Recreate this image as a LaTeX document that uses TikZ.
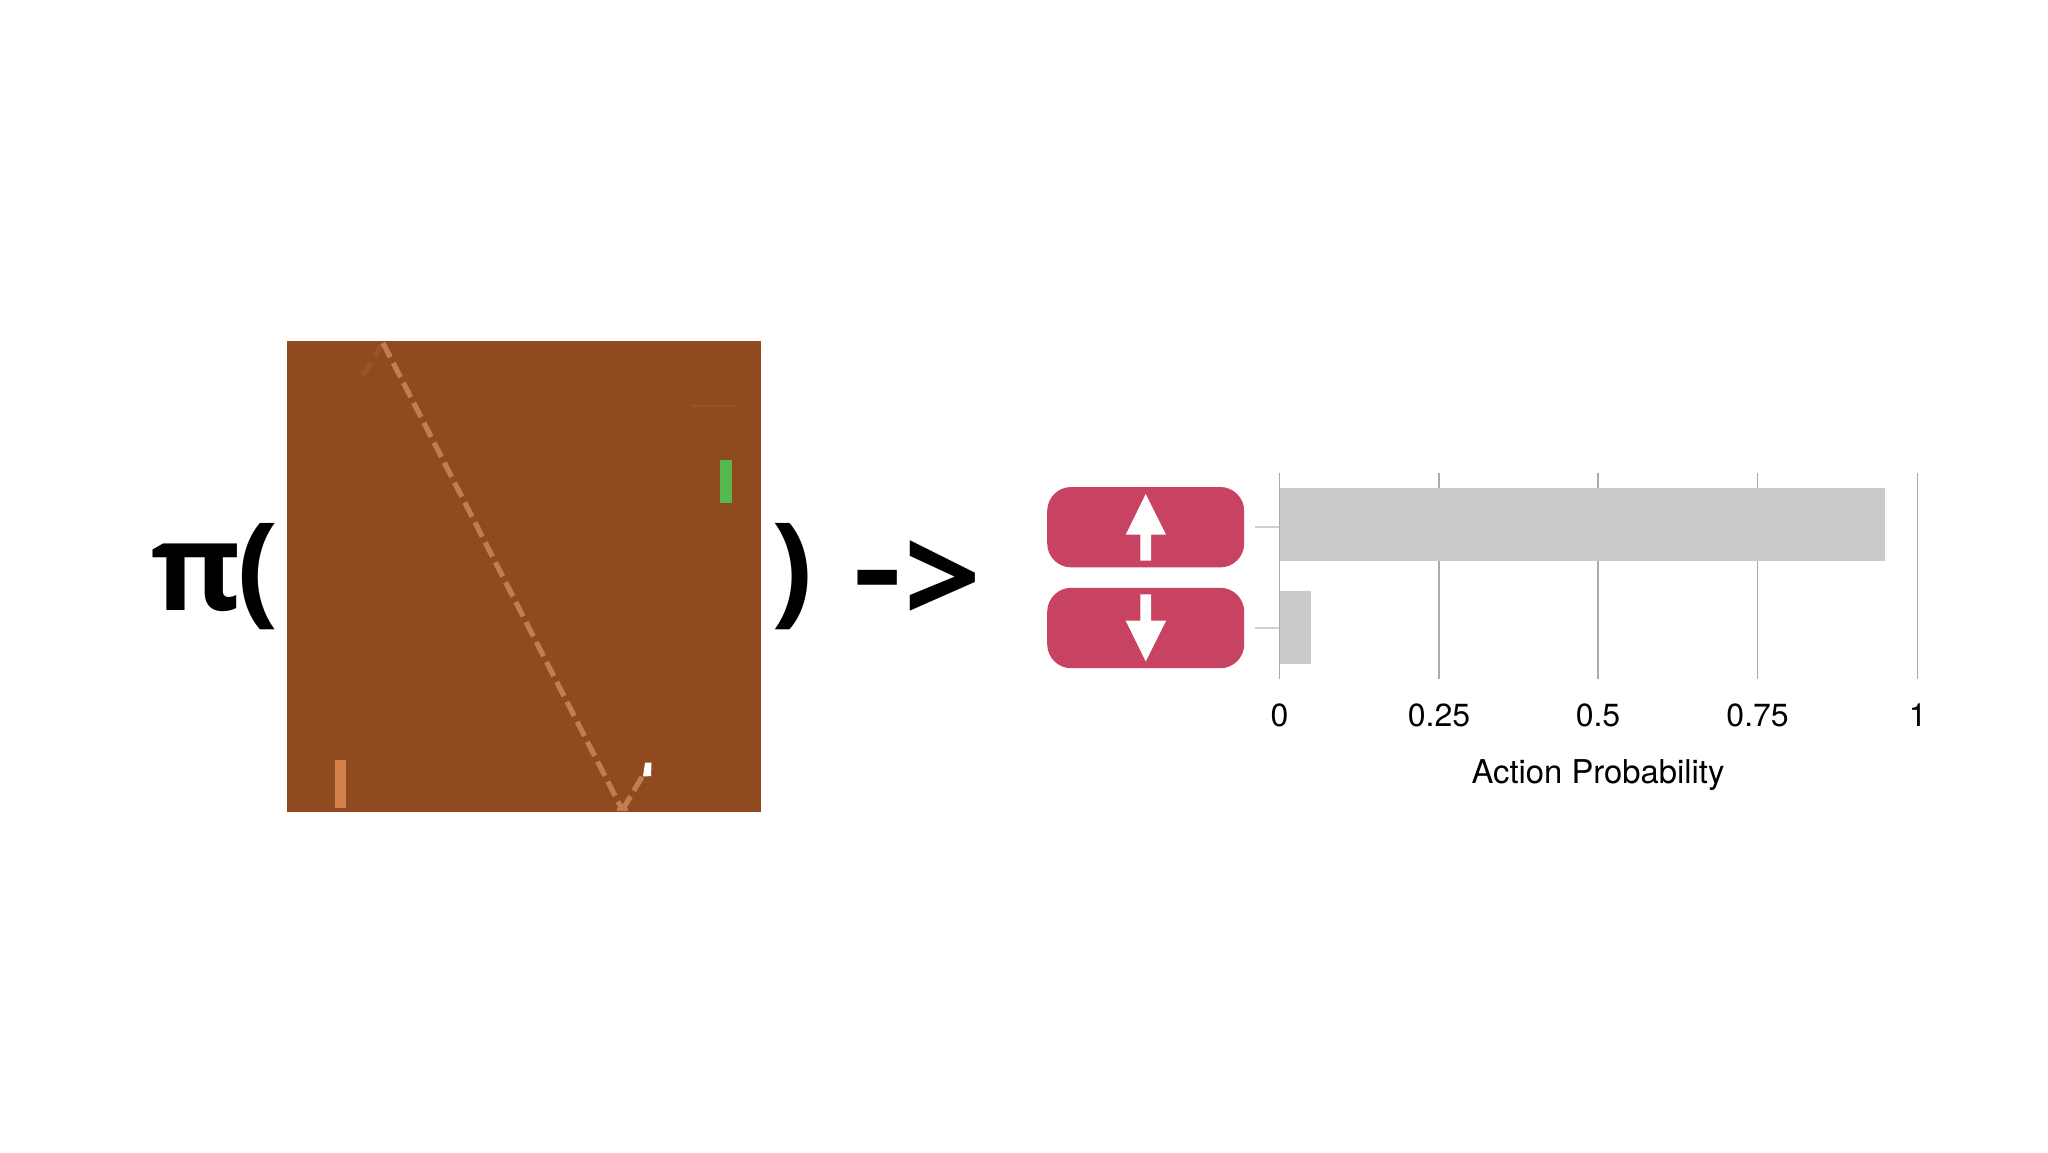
\documentclass[tikz,border=0pt]{standalone}
\usepackage{xcolor}
\usepackage{fontspec}
\setmainfont{TeX Gyre Heros}
\newfontfamily\symfont{Open Sans}
\usetikzlibrary{positioning}
\definecolor{court}{HTML}{8F4A20}
\definecolor{trail}{HTML}{C07D4D}
\definecolor{faint}{HTML}{965427}
\definecolor{action}{HTML}{C84262}
\definecolor{barfill}{HTML}{CBCBCC}
\definecolor{gridline}{HTML}{ABABAB}
\definecolor{tickline}{HTML}{CFCFCF}
\definecolor{leftpad}{HTML}{D5814C}
\definecolor{rightpad}{HTML}{55B84F}
\tikzset{
  symbol/.style = {font=\symfont\bfseries\fontsize{61}{61}\selectfont, inner sep=0, anchor=base west},
  actionbox/.style = {fill=action, rounded corners=12pt, minimum width=98.5pt, minimum height=40.2pt, inner sep=0},
  bar/.style = {fill=barfill, inner sep=0, anchor=north west},
  axislabel/.style = {font=\fontsize{16}{16}\selectfont, inner sep=0, anchor=base},
  paddle/.style = {inner sep=0, anchor=north west},
  ballpath/.style = {line width=2.6pt, dash pattern=on 8pt off 3.2pt},
}

\begin{document}
\begin{tikzpicture}[x=0.5pt, y=-0.5pt]
  \useasboundingbox (0,0) rectangle (2048,1152);
  \fill[white] (0,0) rectangle (2048,1152);

  % game frame
  \node[fill=court, inner sep=0, minimum width=237.2pt, minimum height=235.3pt, anchor=north west] (frame) at (286.6,340.7) {};
  \node[paddle, fill=rightpad, minimum width=6.1pt, minimum height=21.7pt] (padr) at (719.7,459.3) {};
  \node[paddle, fill=leftpad, minimum width=5.7pt, minimum height=23.6pt] (padl) at (334.5,760) {};

  \coordinate (apex) at (383,343);
  \coordinate (bounce) at (622.4,810);
  \coordinate (ball) at (644.3,773);
  \coordinate (start) at (360,380);
  \draw[faint, ballpath] (apex) -- (start);
  \draw[trail, ballpath] (apex) -- (bounce);
  \draw[trail, ballpath] (bounce) -- (ball);
  \fill[trail] (617,808) rectangle (628,811.3);
  \fill[white] (645,762.5) -- (651.5,762.5) -- (651,776) -- (643,776.5) -- cycle;
  \draw[faint, line width=0.6pt] (692,406) -- (738,406);

  % formula text
  \node[symbol] (pi) at (151,610) {π\kern-2.2pt(};
  \node[symbol] (close) at (771,610) {)};
  \node[symbol, xscale=1.23] (minus) at (853,610) {-};
  \node[symbol, scale=1.1] (gt) at (904,624.5) {>};

  % action buttons
  \node[actionbox] (up) at (1145.7,527.2) {};
  \node[actionbox, below=9.8pt of up] (down) {};
  \fill[white] (1145.7,494) -- (1166,534.7) -- (1151,534.7) -- (1151,560.7) -- (1140.3,560.7) -- (1140.3,534.7) -- (1125.7,534.7) -- cycle;
  \fill[white] (1145.7,661.3) -- (1166,620.7) -- (1151,620.7) -- (1151,594.3) -- (1140.3,594.3) -- (1140.3,620.7) -- (1125.7,620.7) -- cycle;

  % chart
  \foreach \i/\x/\lab in {0/1279.4/0, 1/1439/0.25, 2/1598/0.5, 3/1757.6/0.75, 4/1917.7/1} {
    \coordinate (g\i a) at (\x,472.7);
    \coordinate (g\i b) at (\x,679.3);
    \draw[gridline, line width=0.7pt] (g\i a) -- (g\i b);
    \node[axislabel] (l\i) at (\x,726) {\lab};
  }
  \node[bar, minimum width=302.8pt, minimum height=36.6pt] (barup) at (1279.4,487.5) {};
  \node[bar, minimum width=15.8pt, minimum height=36.4pt] (bardown) at (1279.4,591) {};
  \coordinate (tu) at (1255.3,527);
  \coordinate (td) at (1255.3,628);
  \draw[tickline, line width=0.8pt] (tu) -- (1279.4,527);
  \draw[tickline, line width=0.8pt] (td) -- (1279.4,628);
  \draw[gridline, line width=0.7pt] (g0a) -- (g0b);
  \node[axislabel, font=\fontsize{16.4}{16.4}\selectfont] (xlabel) at (1598,783) {Action Probability};
\end{tikzpicture}
\end{document}
